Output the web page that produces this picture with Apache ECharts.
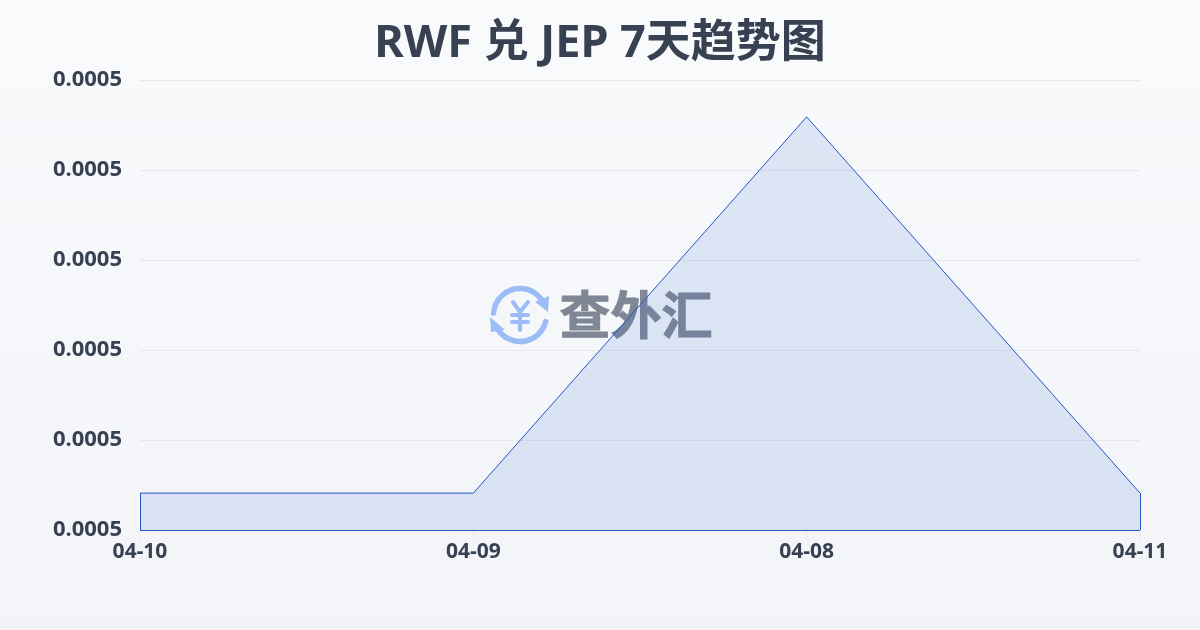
<!DOCTYPE html>
<html><head><meta charset="utf-8">
<style>html,body{margin:0;padding:0;background:#f5f7fa}#c{width:1200px;height:630px}</style>
<script src="https://cdn.jsdelivr.net/npm/echarts@6/dist/echarts.min.js"></script>
</head><body><div id="c"></div>
<script>
const titleText = 'RWF 兑 JEP 7天趋势图';
const categories = ['04-10','04-09','04-08','04-11'];
const rates = [0.0004841,0.0004841,0.0005259,0.0004841];
const axisMin = 0.00048, axisMax = 0.00053, axisStep = 0.00001;
const watermarkText = '查外汇';
const font = '"Noto Sans","Noto Sans CJK SC",sans-serif';
const last = categories.length - 1;
const chart = echarts.init(document.getElementById('c'), null, {renderer:'canvas'});
const blue = '#9abdf7';
const roundLine = (x1,y1,x2,y2)=>({type:'line',shape:{x1,y1,x2,y2},style:{stroke:blue,lineWidth:4,lineCap:'round'}});
chart.setOption({
  animation:false,
  backgroundColor:{type:'linear',x:0,y:0,x2:0,y2:1,colorStops:[{offset:0,color:'#f8fafc'},{offset:1,color:'#f2f4f7'}]},
  title:{text:titleText,left:'center',top:17,textStyle:{color:'#374151',fontSize:45,fontWeight:'bold',fontFamily:font}},
  grid:{left:140,right:60,top:80,bottom:100},
  xAxis:{type:'category',boundaryGap:false,data:categories,
    axisLine:{show:false},
    axisTick:{show:true,length:10,lineStyle:{color:'#e8eaee'}},
    axisLabel:{color:'#374151',fontSize:21,fontWeight:'bold',fontFamily:font,margin:12,showMinLabel:true,showMaxLabel:true,hideOverlap:false,interval:0},
    splitLine:{show:false}},
  yAxis:{type:'value',min:axisMin,max:axisMax,interval:axisStep,
    axisLine:{show:false},axisTick:{show:false},
    axisLabel:{color:'#374151',fontSize:22,fontWeight:'bold',fontFamily:font,margin:18,formatter:v=>v.toFixed(4)},
    splitLine:{show:true,lineStyle:{color:'#e5e7eb',width:1}}},
  graphic:[
    {type:'group',left:490,top:286,z:0,silent:true,bounding:'raw',children:[
      {type:'arc',shape:{cx:30,cy:29,r:26.5,startAngle:-3.07,endAngle:-0.66,clockwise:true},style:{stroke:blue,lineWidth:5.5,fill:null,lineCap:'round'}},
      {type:'arc',shape:{cx:30,cy:29,r:26.5,startAngle:0.25,endAngle:2.56,clockwise:true},style:{stroke:blue,lineWidth:5.5,fill:null,lineCap:'round'}},
      {type:'polygon',shape:{points:[[45,16],[59,10],[58,26]]},style:{fill:blue}},
      {type:'polygon',shape:{points:[[0,31],[15,44],[1,46]]},style:{fill:blue}},
      roundLine(23,16,30,26),roundLine(38,16,30,26),roundLine(22,29,38,29),roundLine(22,36,38,36),roundLine(30,26,30,44)
    ]},
    {type:'text',left:559,top:289,z:0,silent:true,style:{text:watermarkText,fontSize:51,fontWeight:'bold',fontFamily:'"Noto Sans CJK SC",sans-serif',fill:'#7f8694',stroke:'#7f8694',lineWidth:1}}
  ],
  series:[{type:'line',data:rates,symbol:'none',smooth:false,
    lineStyle:{color:'#2557c7',width:1},
    areaStyle:{color:'rgba(65,110,215,0.2)',origin:'start'},
    markLine:{silent:true,symbol:'none',label:{show:false},lineStyle:{color:'#2557c7',width:1,type:'solid'},
      data:[
        [{coord:[categories[0],axisMin]},{coord:[categories[last],axisMin]}],
        [{coord:[categories[0],axisMin]},{coord:[categories[0],rates[0]]}],
        [{coord:[categories[last],axisMin]},{coord:[categories[last],rates[last]]}]
      ]}
  }]
});
</script></body></html>
